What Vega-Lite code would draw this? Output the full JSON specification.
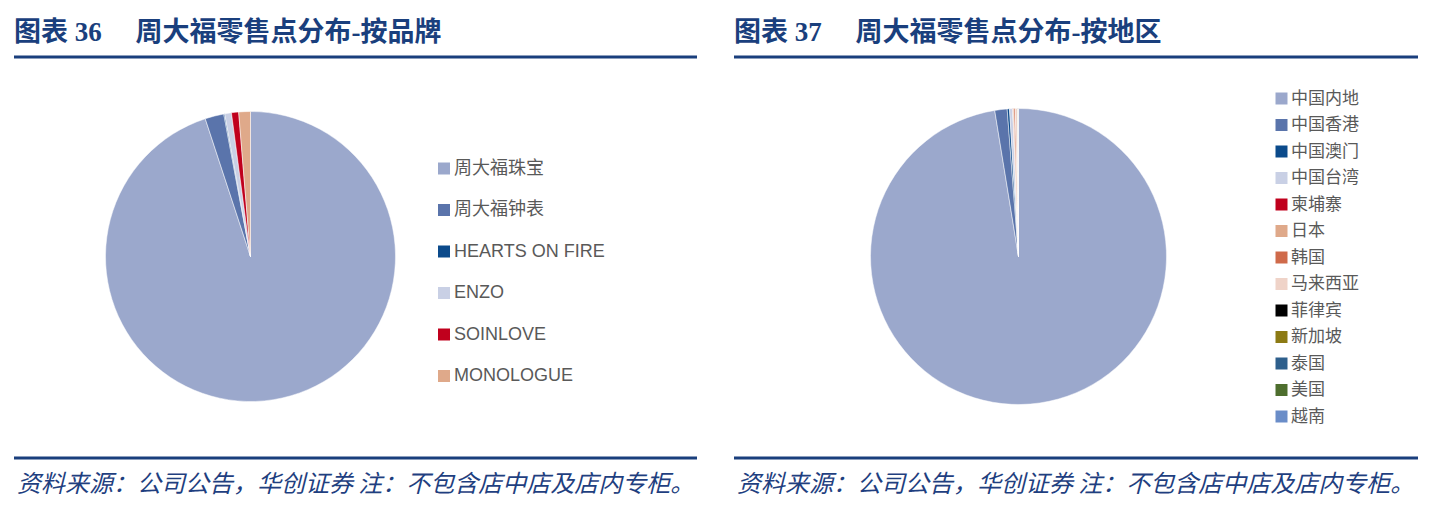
{
  "$schema": "https://vega.github.io/schema/vega-lite/v6.json",
  "padding": 0,
  "background": "#ffffff",
  "bounds": "flush",
  "spacing": 219,
  "config": {"view": {"stroke": null}},
  "resolve": {"scale": {"color": "independent"}, "legend": {"color": "independent"}},
  "hconcat": [
    {
      "width": 501,
      "height": 513,
      "layer": [
        {
          "data": {"values": [
            {"name": "周大福珠宝", "value": 94.95, "idx": 1},
            {"name": "周大福钟表", "value": 2.1, "idx": 2},
            {"name": "HEARTS ON FIRE", "value": 0.1, "idx": 3},
            {"name": "ENZO", "value": 0.75, "idx": 4},
            {"name": "SOINLOVE", "value": 0.8, "idx": 5},
            {"name": "MONOLOGUE", "value": 1.3, "idx": 6}
          ]},
          "mark": {"type": "arc", "outerRadius": 145, "stroke": "#ffffff", "strokeWidth": 0.5},
          "encoding": {
            "theta": {"field": "value", "type": "quantitative", "stack": true},
            "order": {"field": "idx", "type": "quantitative"},
            "color": {
              "field": "name", "type": "nominal",
              "scale": {
                "domain": ["周大福珠宝", "周大福钟表", "HEARTS ON FIRE", "ENZO", "SOINLOVE", "MONOLOGUE"],
                "range": ["#9ba8cc", "#5a74ab", "#0b4a8b", "#c9d0e5", "#c0001d", "#dfa98a"]
              },
              "legend": {
                "title": null, "orient": "none", "legendX": 435, "legendY": 159.5,
                "padding": 0, "symbolType": "square", "symbolSize": 144, "symbolStrokeWidth": 0,
                "rowPadding": 23.5, "labelOffset": 1, "labelLimit": 300,
                "labelFont": "Liberation Sans, Noto Sans CJK SC", "labelFontSize": 18, "labelColor": "#595959"
              }
            }
          }
        },
        {
          "data": {"values": [{}]},
          "mark": {"type": "rule", "color": "#1a3f7d", "strokeWidth": 3},
          "encoding": {"x": {"value": 14}, "x2": {"value": 697}, "y": {"value": 57}}
        },
        {
          "data": {"values": [{}]},
          "mark": {"type": "rule", "color": "#1a3f7d", "strokeWidth": 3},
          "encoding": {"x": {"value": 14}, "x2": {"value": 697}, "y": {"value": 458}}
        },
        {
          "data": {"values": [{}]},
          "mark": {"type": "text", "text": "图表 36　 周大福零售点分布-按品牌", "align": "left", "baseline": "middle",
                   "font": "Liberation Serif, Noto Sans CJK SC", "fontSize": 27, "fontWeight": "bold", "color": "#1a3f7d"},
          "encoding": {"x": {"value": 14}, "y": {"value": 33}}
        },
        {
          "data": {"values": [{}]},
          "mark": {"type": "text", "text": "资料来源：公司公告，华创证券 注：不包含店中店及店内专柜。", "align": "left", "baseline": "middle",
                   "font": "Noto Sans CJK SC", "fontSize": 24, "fontStyle": "italic", "color": "#1f3f7f"},
          "encoding": {"x": {"value": 17}, "y": {"value": 485}}
        }
      ]
    },
    {
      "width": 597,
      "height": 513,
      "layer": [
        {
          "data": {"values": [
            {"name": "中国内地", "value": 97.43, "idx": 1},
            {"name": "中国香港", "value": 1.35, "idx": 2},
            {"name": "中国澳门", "value": 0.25, "idx": 3},
            {"name": "中国台湾", "value": 0.35, "idx": 4},
            {"name": "柬埔寨", "value": 0.02, "idx": 5},
            {"name": "日本", "value": 0.1, "idx": 6},
            {"name": "韩国", "value": 0.15, "idx": 7},
            {"name": "马来西亚", "value": 0.25, "idx": 8},
            {"name": "菲律宾", "value": 0.02, "idx": 9},
            {"name": "新加坡", "value": 0.02, "idx": 10},
            {"name": "泰国", "value": 0.02, "idx": 11},
            {"name": "美国", "value": 0.02, "idx": 12},
            {"name": "越南", "value": 0.02, "idx": 13}
          ]},
          "mark": {"type": "arc", "outerRadius": 148, "stroke": "#ffffff", "strokeWidth": 0.5},
          "encoding": {
            "theta": {"field": "value", "type": "quantitative", "stack": true},
            "order": {"field": "idx", "type": "quantitative"},
            "color": {
              "field": "name", "type": "nominal",
              "scale": {
                "domain": ["中国内地", "中国香港", "中国澳门", "中国台湾", "柬埔寨", "日本", "韩国", "马来西亚", "菲律宾", "新加坡", "泰国", "美国", "越南"],
                "range": ["#9ba8cc", "#5a74ab", "#0b4a8b", "#c9d0e5", "#c0001d", "#dfa98a", "#cf6a4a", "#efd3c8", "#000000", "#8c7a14", "#2e5f8c", "#4e6e2e", "#6a8dc8"]
              },
              "legend": {
                "title": null, "orient": "none", "legendX": 553, "legendY": 90,
                "padding": 0, "symbolType": "square", "symbolSize": 144, "symbolStrokeWidth": 0,
                "rowPadding": 8.5, "labelOffset": 1, "labelLimit": 300, "symbolLimit": 50,
                "labelFont": "Noto Sans CJK SC", "labelFontSize": 17, "labelColor": "#595959"
              }
            }
          }
        },
        {
          "data": {"values": [{}]},
          "mark": {"type": "rule", "color": "#1a3f7d", "strokeWidth": 3},
          "encoding": {"x": {"value": 14}, "x2": {"value": 698}, "y": {"value": 57}}
        },
        {
          "data": {"values": [{}]},
          "mark": {"type": "rule", "color": "#1a3f7d", "strokeWidth": 3},
          "encoding": {"x": {"value": 14}, "x2": {"value": 698}, "y": {"value": 458}}
        },
        {
          "data": {"values": [{}]},
          "mark": {"type": "text", "text": "图表 37　 周大福零售点分布-按地区", "align": "left", "baseline": "middle",
                   "font": "Liberation Serif, Noto Sans CJK SC", "fontSize": 27, "fontWeight": "bold", "color": "#1a3f7d"},
          "encoding": {"x": {"value": 14}, "y": {"value": 33}}
        },
        {
          "data": {"values": [{}]},
          "mark": {"type": "text", "text": "资料来源：公司公告，华创证券 注：不包含店中店及店内专柜。", "align": "left", "baseline": "middle",
                   "font": "Noto Sans CJK SC", "fontSize": 24, "fontStyle": "italic", "color": "#1f3f7f"},
          "encoding": {"x": {"value": 17}, "y": {"value": 485}}
        }
      ]
    }
  ]
}
